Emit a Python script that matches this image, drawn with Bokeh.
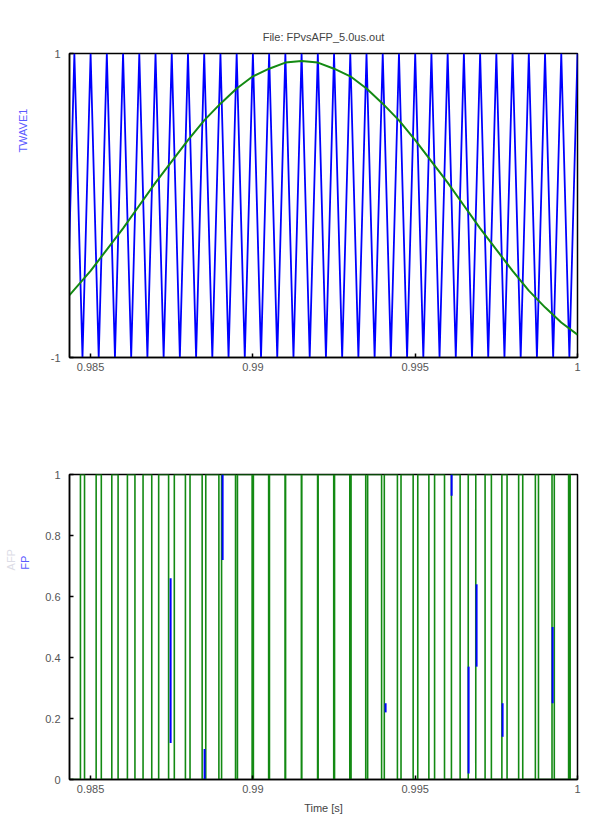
from bokeh.plotting import figure
from bokeh.layouts import column
from bokeh.models import Range1d, FixedTicker, LinearAxis
from bokeh.embed import file_html
from bokeh.resources import INLINE

# ---------------- data ----------------
x_ticks = [0.985, 0.99, 0.995, 1]
x_tick_labels = {0.985: "0.985", 0.99: "0.99", 0.995: "0.995", 1: "1"}
x_start, x_end = 0.98435, 1.0

top_y_ticks = [-1, 1]
top_y_labels = {-1: "-1", 1: "1"}

# triangular carrier TWAVE1: peak (+1) and trough (-1) times
twave_peak_t = [0.9845, 0.9850, 0.9855, 0.9860, 0.9865, 0.9870, 0.9875, 0.9880,
                0.9885, 0.9890, 0.9895, 0.9900, 0.9905, 0.9910, 0.9915, 0.9920,
                0.9925, 0.9930, 0.9935, 0.9940, 0.9945, 0.9950, 0.9955, 0.9960,
                0.9965, 0.9970, 0.9975, 0.9980, 0.9985, 0.9990, 0.9995, 1.0000]
twave_trough_t = [0.98425, 0.98475, 0.98525, 0.98575, 0.98625, 0.98675, 0.98725, 0.98775,
                  0.98825, 0.98875, 0.98925, 0.98975, 0.99025, 0.99075, 0.99125, 0.99175,
                  0.99225, 0.99275, 0.99325, 0.99375, 0.99425, 0.99475, 0.99525, 0.99575,
                  0.99625, 0.99675, 0.99725, 0.99775, 0.99825, 0.99875, 0.99925, 0.99975]

# green reference sine
sine_t = [0.98435, 0.9850, 0.9855, 0.9860, 0.9865, 0.9870, 0.9875, 0.9880, 0.9885,
          0.9890, 0.9895, 0.9900, 0.9905, 0.9910, 0.9915, 0.9920, 0.9925, 0.9930,
          0.9935, 0.9940, 0.9945, 0.9950, 0.9955, 0.9960, 0.9965, 0.9970, 0.9975,
          0.9980, 0.9985, 0.9990, 0.9995, 1.0000]
sine_v = [-0.59, -0.43, -0.29, -0.15, 0.00, 0.15, 0.29, 0.43, 0.56,
          0.67, 0.77, 0.85, 0.90, 0.94, 0.95, 0.94, 0.90, 0.85,
          0.77, 0.67, 0.56, 0.43, 0.29, 0.15, 0.00, -0.15, -0.29,
          -0.43, -0.56, -0.67, -0.77, -0.85]

# FP pulse edges (rise to 1, fall to 0)
fp_rise = [0.984687, 0.985171, 0.985653, 0.986134, 0.986616, 0.987097, 0.987579, 0.988063,
           0.988548, 0.989035, 0.989524, 0.990015, 0.990510, 0.991007, 0.991507, 0.992010,
           0.992515, 0.993024, 0.993535, 0.994048, 0.994563, 0.995079, 0.995597, 0.996116,
           0.996634, 0.997153, 0.997670, 0.998187, 0.998702, 0.999215, 0.999726]
fp_fall = [0.984813, 0.985330, 0.985847, 0.986366, 0.986884, 0.987403, 0.987921, 0.988437,
           0.988952, 0.989465, 0.989976, 0.990485, 0.990990, 0.991493, 0.991993, 0.992490,
           0.992985, 0.993476, 0.993965, 0.994452, 0.994937, 0.995421, 0.995903, 0.996384,
           0.996866, 0.997347, 0.997830, 0.998313, 0.998798, 0.999285, 0.999774]

# blue AFP transition samples visible in the lower panel
afp_t = [0.987465, 0.988512, 0.989067, 0.994088, 0.996122, 0.996645, 0.996891, 0.997692, 0.999233]
afp_y0 = [0.12, 0.00, 0.72, 0.22, 0.93, 0.02, 0.37, 0.14, 0.25]
afp_y1 = [0.66, 0.10, 1.00, 0.25, 1.00, 0.37, 0.64, 0.25, 0.50]

bottom_y_ticks = [0, 0.2, 0.4, 0.6, 0.8, 1]
bottom_y_labels = {0: "0", 1: "1"}

BLUE = "#0000ff"
GREEN = "#138a13"
FONT = "Liberation Sans"
TICK_COLOR = "#555555"
NB = "\u00a0"


def style(p):
    p.background_fill_color = "white"
    p.border_fill_color = "white"
    p.outline_line_color = "black"
    p.outline_line_width = 1.5
    p.grid.visible = False
    for ax in p.axis:
        ax.axis_line_color = "black"
        ax.axis_line_width = 1.5
        ax.major_tick_in = 4
        ax.major_tick_out = 0
        ax.major_tick_line_color = "black"
        ax.major_tick_line_width = 1.5
        ax.minor_tick_line_color = None
        ax.major_label_text_font = FONT
        ax.major_label_text_font_size = "11px"
        ax.major_label_text_color = TICK_COLOR
        ax.axis_label_text_font = FONT
        ax.axis_label_text_font_size = "11px"
        ax.axis_label_text_font_style = "normal"
    p.xaxis.ticker = FixedTicker(ticks=x_ticks)
    p.xaxis.major_label_overrides = x_tick_labels
    p.xaxis.major_label_standoff = 5
    p.yaxis.major_label_standoff = 9


def label_axis(p, text, color, standoff):
    ax = LinearAxis(axis_label=text, ticker=FixedTicker(ticks=[]),
                    axis_line_color=None, major_tick_line_color=None,
                    minor_tick_line_color=None,
                    axis_label_text_font=FONT, axis_label_text_font_size="11px",
                    axis_label_text_font_style="normal", axis_label_text_color=color,
                    axis_label_standoff=standoff)
    p.add_layout(ax, "left")


# ---------------- top panel ----------------
top = figure(width=589, height=400, output_backend="svg", toolbar_location=None,
             x_range=Range1d(x_start, x_end), y_range=Range1d(-1, 1),
             min_border_left=69, min_border_right=12, min_border_top=53, min_border_bottom=43,
             title="File: FPvsAFP_5.0us.out")
style(top)
top.title.align = "center"
top.title.text_font = FONT
top.title.text_font_size = "11px"
top.title.text_font_style = "normal"
top.title.text_color = "#444444"
top.title.standoff = 21
top.yaxis.ticker = FixedTicker(ticks=top_y_ticks)
top.yaxis.major_label_overrides = top_y_labels
top.yaxis.axis_label = NB * 49 + "TWAVE1"
top.yaxis.axis_label_text_color = "#5a5aff"
top.yaxis.axis_label_standoff = 19

tw = sorted([(t, 1.0) for t in twave_peak_t] + [(t, -1.0) for t in twave_trough_t])
top.line([a for a, _ in tw], [b for _, b in tw], line_color=BLUE, line_width=1.8)
top.line(sine_t, sine_v, line_color=GREEN, line_width=2)

# ---------------- bottom panel ----------------
bot = figure(width=589, height=436, output_backend="svg", toolbar_location=None,
             x_range=Range1d(x_start, x_end), y_range=Range1d(0, 1),
             min_border_left=69, min_border_right=12, min_border_top=74, min_border_bottom=57)
style(bot)
bot.yaxis.ticker = FixedTicker(ticks=bottom_y_ticks)
bot.yaxis.major_label_overrides = bottom_y_labels
bot.yaxis.axis_label = NB * 42 + "FP"
bot.yaxis.axis_label_text_color = "#5a5aff"
bot.yaxis.axis_label_standoff = 11
label_axis(bot, NB * 44 + "AFP", "#dcdce6", 0)
bot.xaxis.axis_label = "Time [s]"
bot.xaxis.axis_label_text_color = "#444444"
bot.xaxis.axis_label_standoff = 6

fp_t = [x_start]
fp_v = [0.0]
for r, f in zip(fp_rise, fp_fall):
    fp_t += [r, r, f, f]
    fp_v += [0.0, 1.0, 1.0, 0.0]
fp_t.append(x_end)
fp_v.append(0.0)
bot.line(fp_t, fp_v, line_color=GREEN, line_width=1.6)
bot.segment(x0=afp_t, y0=afp_y0, x1=afp_t, y1=afp_y1, line_color=BLUE, line_width=2)

layout = column(top, bot, spacing=0)
open("out.html", "w").write(file_html(layout, INLINE))
